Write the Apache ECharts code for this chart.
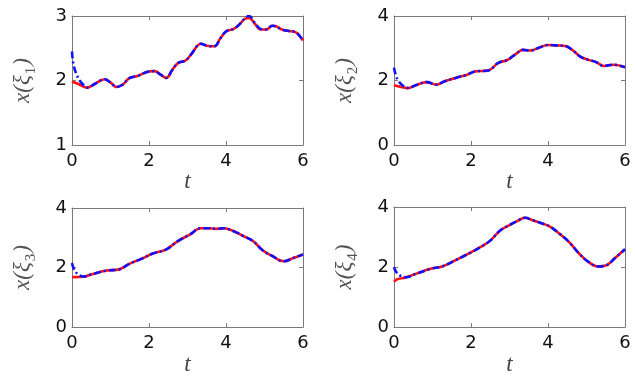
<!DOCTYPE html>
<html>
<head>
<meta charset="utf-8">
<script src="https://cdn.jsdelivr.net/npm/echarts@6/dist/echarts.min.js"></script>
<style>
html,body{margin:0;padding:0;background:#fff;}
#c{width:635px;height:377px;}
</style>
</head>
<body>
<div id="c"></div>
<script>
// ---- data ----
const xTicks = [0, 2, 4, 6];

const t1 = [0,0.15,0.4,0.6,0.85,1.0,1.15,1.3,1.5,1.7,2.0,2.15,2.3,2.45,2.6,2.75,2.95,3.1,3.35,3.5,3.7,3.85,4.0,4.2,4.35,4.5,4.6,4.75,4.9,5.05,5.2,5.3,5.45,5.6,5.8,5.9,6.0];
const red1 = [1.98,1.95,1.89,1.95,2.02,1.97,1.90,1.93,2.04,2.07,2.14,2.145,2.09,2.04,2.16,2.27,2.31,2.41,2.57,2.54,2.53,2.65,2.76,2.80,2.87,2.96,2.97,2.88,2.79,2.79,2.85,2.84,2.79,2.77,2.75,2.70,2.62];
const bt1 = [0,0.03,0.1,0.2,0.3,0.4,0.6,0.85,1.0,1.15,1.3,1.5,1.7,2.0,2.15,2.3,2.45,2.6,2.75,2.95,3.1,3.35,3.5,3.7,3.85,4.0,4.2,4.35,4.5,4.6,4.75,4.9,5.05,5.2,5.3,5.45,5.6,5.8,5.9,6.0];
const blue1 = [2.45,2.28,2.12,2.0,1.93,1.89,1.95,2.02,1.97,1.90,1.93,2.04,2.07,2.14,2.145,2.09,2.04,2.16,2.27,2.31,2.41,2.57,2.54,2.53,2.65,2.76,2.80,2.87,2.97,3.0,2.89,2.80,2.79,2.85,2.84,2.79,2.77,2.75,2.70,2.62];

const t2 = [0,0.15,0.35,0.6,0.85,1.1,1.3,1.6,1.9,2.1,2.45,2.7,2.95,3.15,3.35,3.55,3.75,4.0,4.2,4.45,4.65,4.85,5.05,5.25,5.45,5.7,6.0];
const red2 = [1.85,1.81,1.76,1.87,1.95,1.87,1.97,2.08,2.18,2.28,2.31,2.54,2.64,2.81,2.95,2.93,3.01,3.10,3.09,3.07,2.93,2.73,2.64,2.57,2.45,2.49,2.41];
const bt2 = [0,0.05,0.12,0.25,0.35,0.6,0.85,1.1,1.3,1.6,1.9,2.1,2.45,2.7,2.95,3.15,3.35,3.55,3.75,4.0,4.2,4.45,4.65,4.85,5.05,5.25,5.45,5.7,6.0];
const blue2 = [2.40,2.15,1.98,1.82,1.77,1.87,1.95,1.87,1.97,2.08,2.18,2.28,2.31,2.54,2.64,2.81,2.95,2.93,3.01,3.10,3.09,3.07,2.93,2.73,2.64,2.57,2.45,2.49,2.41];

const t3 = [0,0.3,0.5,0.9,1.2,1.5,1.8,2.1,2.45,2.75,3.05,3.35,3.55,3.75,3.95,4.2,4.45,4.7,4.95,5.2,5.5,5.75,6.0];
const red3 = [1.68,1.69,1.77,1.90,1.93,2.13,2.29,2.47,2.61,2.89,3.10,3.32,3.32,3.30,3.32,3.22,3.06,2.89,2.58,2.39,2.21,2.32,2.44];
const bt3 = [0,0.05,0.15,0.3,0.5,0.9,1.2,1.5,1.8,2.1,2.45,2.75,3.05,3.35,3.55,3.75,3.95,4.2,4.45,4.7,4.95,5.2,5.5,5.75,6.0];
const blue3 = [2.15,1.95,1.78,1.70,1.77,1.90,1.93,2.13,2.29,2.47,2.61,2.89,3.10,3.32,3.32,3.30,3.32,3.22,3.06,2.89,2.58,2.39,2.21,2.32,2.44];

const t4 = [0,0.1,0.3,0.6,0.95,1.25,1.6,2.0,2.25,2.5,2.75,3.0,3.2,3.4,3.6,3.85,4.05,4.3,4.55,4.8,5.05,5.3,5.5,5.75,6.0];
const red4 = [1.51,1.60,1.65,1.79,1.94,2.02,2.23,2.49,2.67,2.88,3.21,3.40,3.53,3.64,3.56,3.45,3.35,3.11,2.83,2.46,2.17,2.02,2.05,2.31,2.59];
const bt4 = [0,0.05,0.15,0.3,0.6,0.95,1.25,1.6,2.0,2.25,2.5,2.75,3.0,3.2,3.4,3.6,3.85,4.05,4.3,4.55,4.8,5.05,5.3,5.5,5.75,6.0];
const blue4 = [2.00,1.85,1.72,1.66,1.79,1.94,2.02,2.23,2.49,2.67,2.88,3.21,3.40,3.53,3.64,3.56,3.45,3.35,3.11,2.83,2.46,2.17,2.02,2.05,2.31,2.59];

const yRanges = [[1,3,1],[0,4,2],[0,4,2],[0,4,2]];
const subs = ['1','2','3','4'];

const panels = [
  {t: t1, red: red1, bt: bt1, blue: blue1},
  {t: t2, red: red2, bt: bt2, blue: blue2},
  {t: t3, red: red3, bt: bt3, blue: blue3},
  {t: t4, red: red4, bt: bt4, blue: blue4}
];

// ---- layout ----
const grids = [
  {left: 72, top: 16, width: 231, height: 129},
  {left: 394, top: 16, width: 231, height: 129},
  {left: 72, top: 208, width: 231, height: 128},
  {left: 394, top: 207, width: 231, height: 129}
];

const lineCol = '#7a7a7a';
const tickFont = {fontFamily: 'DejaVu Sans', fontSize: 18, color: '#111'};
const pair = (xs, ys) => xs.map((x, i) => [x, ys[i]]);

const xAxis = [], yAxis = [], series = [];
grids.forEach((g, i) => {
  const [ymin, ymax, yint] = yRanges[i];
  xAxis.push({
    gridIndex: i, type: 'value', min: 0, max: 6, interval: 2, position: 'bottom',
    axisLine: {show: true, onZero: false, lineStyle: {color: lineCol, width: 1}},
    axisTick: {show: true, inside: true, length: 4, lineStyle: {color: lineCol}},
    axisLabel: Object.assign({margin: 7}, tickFont),
    splitLine: {show: false},
    name: 't', nameLocation: 'middle', nameGap: 18,
    nameTextStyle: {fontFamily: 'Liberation Serif', fontStyle: 'italic', fontSize: 23, color: '#444'}
  });
  xAxis.push({
    gridIndex: i, type: 'value', min: 0, max: 6, interval: 2, position: 'top',
    axisLine: {show: true, onZero: false, lineStyle: {color: lineCol, width: 1}},
    axisTick: {show: true, inside: true, length: 4, lineStyle: {color: lineCol}},
    axisLabel: {show: false}, splitLine: {show: false}
  });
  yAxis.push({
    gridIndex: i, type: 'value', min: ymin, max: ymax, interval: yint, position: 'left',
    axisLine: {show: true, onZero: false, lineStyle: {color: lineCol, width: 1}},
    axisTick: {show: true, inside: true, length: 4, lineStyle: {color: lineCol}},
    axisLabel: Object.assign({margin: 5}, tickFont),
    splitLine: {show: false},
    name: '{m|x(ξ}{s|' + subs[i] + '}{m|)}', nameLocation: 'middle', nameGap: 33, nameRotate: 90,
    nameTextStyle: {
      rich: {
        m: {fontFamily: 'Liberation Serif', fontStyle: 'italic', fontSize: 23, color: '#555', verticalAlign: 'bottom', padding: [0, 1, 5, 1]},
        s: {fontFamily: 'Liberation Serif', fontSize: 15, color: '#555', verticalAlign: 'bottom'}
      }
    }
  });
  yAxis.push({
    gridIndex: i, type: 'value', min: ymin, max: ymax, interval: yint, position: 'right',
    axisLine: {show: true, onZero: false, lineStyle: {color: lineCol, width: 1}},
    axisTick: {show: true, inside: true, length: 4, lineStyle: {color: lineCol}},
    axisLabel: {show: false}, splitLine: {show: false}
  });
  const p = panels[i];
  series.push({
    type: 'line', xAxisIndex: 2 * i, yAxisIndex: 2 * i, data: pair(p.t, p.red),
    showSymbol: false, smooth: 0.4, clip: true,
    lineStyle: {color: '#ff1010', width: 2.6}, silent: true, animation: false
  });
  series.push({
    type: 'line', xAxisIndex: 2 * i, yAxisIndex: 2 * i, data: pair(p.bt, p.blue),
    showSymbol: false, smooth: 0.4, clip: true,
    lineStyle: {color: '#1010ff', width: 2.6, type: [7, 3, 2, 3]}, silent: true, animation: false
  });
});

const chart = echarts.init(document.getElementById('c'), null, {renderer: 'canvas'});
chart.setOption({
  animation: false,
  backgroundColor: '#fff',
  grid: grids,
  xAxis: xAxis,
  yAxis: yAxis,
  series: series
});
</script>
</body>
</html>
